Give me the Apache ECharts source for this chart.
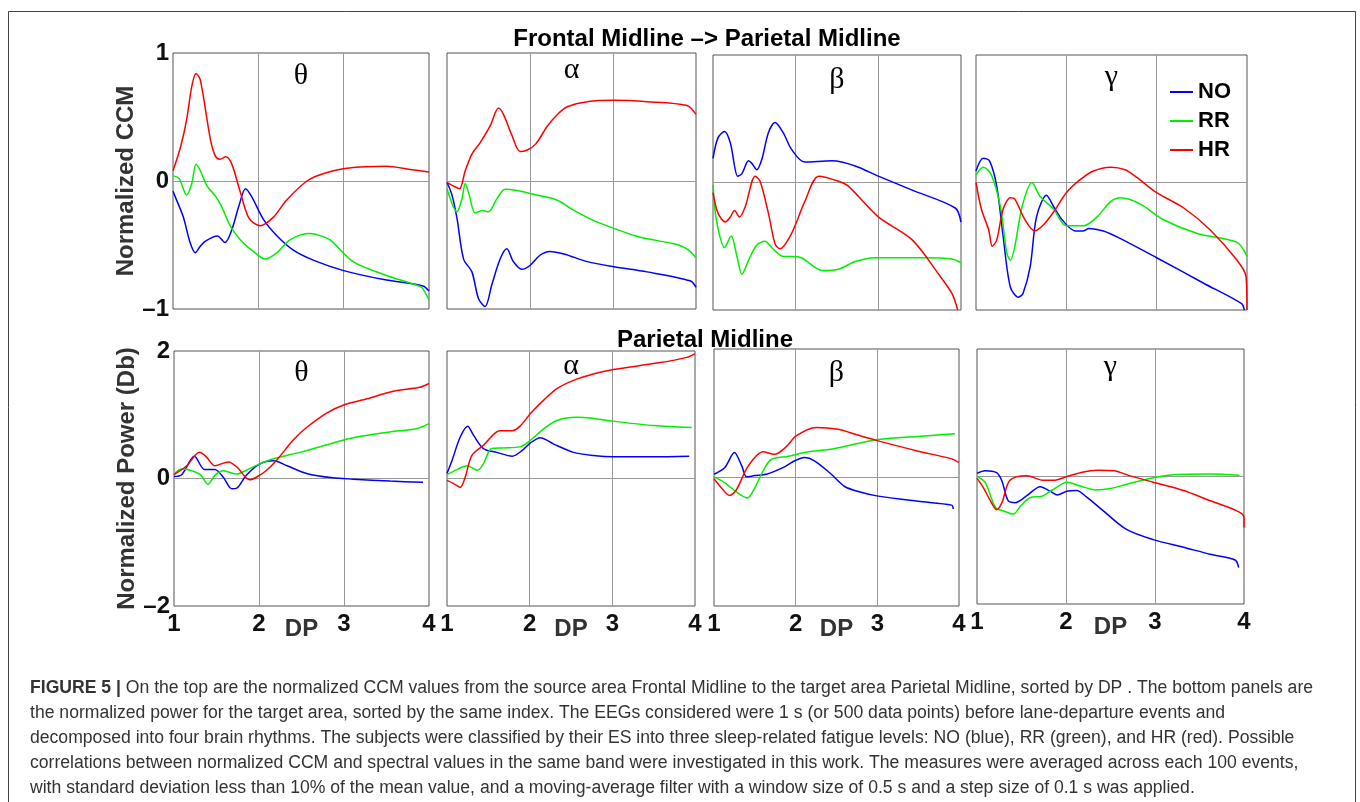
<!DOCTYPE html>
<html>
<head>
<meta charset="utf-8">
<script src="https://cdn.jsdelivr.net/npm/echarts@6.0.0/dist/echarts.min.js"></script>
<style>
  html, body { margin: 0; padding: 0; background: #fff; }
  #chart { width: 1360px; height: 802px; }
</style>
</head>
<body>
<div id="chart"></div>
<script>
// bands, groups and the x axis (DP index)
const bands = ['θ', 'α', 'β', 'γ']
const groups = ['NO', 'RR', 'HR']
const dpTicks = [1, 2, 3, 4]

// normalized CCM, Frontal Midline -> Parietal Midline, [DP, value]
const thetaCcmNO = [[1,-0.08],[1.03,-0.13],[1.12,-0.28],[1.2,-0.48],[1.26,-0.56],[1.32,-0.51],[1.38,-0.47],[1.52,-0.43],[1.61,-0.48],[1.69,-0.38],[1.77,-0.2],[1.85,-0.06],[1.92,-0.12],[2.06,-0.3],[2.22,-0.43],[2.41,-0.54],[2.65,-0.62],[3,-0.7],[3.47,-0.77],[3.93,-0.82],[4,-0.86]]
const thetaCcmRR = [[1,0.04],[1.07,0.02],[1.16,-0.11],[1.22,-0.02],[1.27,0.13],[1.32,0.08],[1.4,-0.04],[1.5,-0.12],[1.57,-0.2],[1.67,-0.35],[1.79,-0.46],[1.94,-0.55],[2.08,-0.61],[2.22,-0.56],[2.37,-0.46],[2.59,-0.41],[2.69,-0.42],[2.84,-0.46],[3.11,-0.63],[3.47,-0.73],[3.86,-0.815],[3.92,-0.835],[4,-0.93]]
const thetaCcmHR = [[1,0.08],[1.09,0.27],[1.16,0.48],[1.22,0.74],[1.27,0.84],[1.32,0.79],[1.44,0.32],[1.5,0.19],[1.55,0.17],[1.62,0.19],[1.69,0.13],[1.79,-0.09],[1.89,-0.29],[2.02,-0.35],[2.18,-0.28],[2.33,-0.15],[2.57,0],[2.76,0.057],[3.04,0.1],[3.5,0.115],[3.78,0.09],[4,0.07]]

const alphaCcmNO = [[1,-0.01],[1.06,-0.11],[1.12,-0.29],[1.2,-0.61],[1.3,-0.71],[1.38,-0.92],[1.46,-0.98],[1.54,-0.81],[1.64,-0.61],[1.72,-0.53],[1.8,-0.63],[1.9,-0.69],[2,-0.66],[2.12,-0.58],[2.24,-0.55],[2.41,-0.57],[2.69,-0.63],[3.01,-0.67],[3.41,-0.71],[3.93,-0.78],[4,-0.83]]
const alphaCcmRR = [[1,-0.06],[1.12,-0.24],[1.18,-0.14],[1.22,-0.02],[1.26,-0.09],[1.34,-0.25],[1.42,-0.23],[1.5,-0.24],[1.6,-0.14],[1.7,-0.065],[1.84,-0.075],[2.08,-0.11],[2.33,-0.15],[2.53,-0.23],[2.77,-0.31],[3.01,-0.37],[3.33,-0.44],[3.73,-0.49],[3.89,-0.53],[4,-0.6]]
const alphaCcmHR = [[1,-0.01],[1.08,-0.04],[1.15,-0.06],[1.22,0.08],[1.3,0.21],[1.4,0.3],[1.52,0.43],[1.62,0.57],[1.68,0.52],[1.78,0.36],[1.88,0.23],[1.96,0.24],[2.07,0.29],[2.21,0.43],[2.33,0.52],[2.45,0.58],[2.69,0.62],[3.01,0.63],[3.41,0.62],[3.89,0.59],[4,0.52]]

const betaCcmNO = [[1,0.19],[1.06,0.35],[1.14,0.4],[1.21,0.31],[1.3,0.05],[1.35,0.07],[1.43,0.17],[1.47,0.15],[1.53,0.1],[1.59,0.18],[1.67,0.39],[1.75,0.47],[1.85,0.39],[1.95,0.26],[2.11,0.16],[2.44,0.17],[2.72,0.13],[3,0.05],[3.41,-0.06],[3.93,-0.2],[4,-0.31]]
const betaCcmRR = [[1,-0.02],[1.04,-0.29],[1.14,-0.51],[1.22,-0.42],[1.29,-0.58],[1.35,-0.72],[1.43,-0.61],[1.53,-0.49],[1.63,-0.46],[1.71,-0.51],[1.85,-0.58],[1.95,-0.58],[2.07,-0.59],[2.32,-0.69],[2.52,-0.68],[2.72,-0.62],[2.96,-0.59],[3.52,-0.59],[3.89,-0.6],[4,-0.63]]
const betaCcmHR = [[1,-0.08],[1.06,-0.24],[1.15,-0.31],[1.21,-0.27],[1.26,-0.22],[1.32,-0.27],[1.39,-0.19],[1.51,0.05],[1.57,0.01],[1.67,-0.24],[1.75,-0.48],[1.81,-0.52],[1.95,-0.4],[2.11,-0.15],[2.28,0.05],[2.52,0.01],[2.64,-0.03],[3,-0.27],[3.41,-0.45],[3.73,-0.72],[3.89,-0.87],[3.96,-1]]

const gammaCcmNO = [[1,0.09],[1.08,0.19],[1.15,0.17],[1.23,-0.03],[1.3,-0.42],[1.38,-0.82],[1.47,-0.9],[1.52,-0.87],[1.6,-0.66],[1.67,-0.27],[1.78,-0.1],[1.86,-0.19],[1.95,-0.29],[2.1,-0.38],[2.19,-0.38],[2.25,-0.36],[2.41,-0.38],[2.6,-0.44],[3,-0.59],[3.52,-0.79],[3.94,-0.95],[3.97,-1]]
const gammaCcmRR = [[1,0.06],[1.08,0.12],[1.17,0.06],[1.27,-0.19],[1.34,-0.55],[1.38,-0.61],[1.43,-0.5],[1.51,-0.19],[1.62,0],[1.71,-0.11],[1.86,-0.21],[2,-0.34],[2.19,-0.34],[2.34,-0.27],[2.49,-0.15],[2.6,-0.12],[2.82,-0.17],[3.07,-0.29],[3.45,-0.4],[3.89,-0.47],[4,-0.58]]
const gammaCcmHR = [[1,0],[1.06,-0.21],[1.14,-0.37],[1.18,-0.5],[1.23,-0.45],[1.3,-0.21],[1.38,-0.12],[1.43,-0.13],[1.54,-0.29],[1.65,-0.38],[1.75,-0.33],[1.86,-0.23],[2,-0.08],[2.15,0.02],[2.3,0.09],[2.49,0.12],[2.65,0.1],[2.78,0.04],[3,-0.08],[3.3,-0.2],[3.59,-0.37],[3.89,-0.61],[3.99,-0.74],[4,-1]]

// normalized power (Db), Parietal Midline, [DP, value]
const thetaPowNO = [[1,0.03],[1.09,0.06],[1.24,0.35],[1.36,0.14],[1.48,0.14],[1.58,0.02],[1.68,-0.16],[1.74,-0.15],[1.85,0.05],[2.01,0.23],[2.17,0.28],[2.33,0.2],[2.56,0.08],[2.87,0.01],[3.11,-0.01],[3.54,-0.04],[3.93,-0.06]]
const thetaPowRR = [[1,0.07],[1.09,0.15],[1.19,0.13],[1.31,0.06],[1.4,-0.09],[1.48,0.05],[1.58,0.12],[1.74,0.07],[1.85,0.13],[2.01,0.23],[2.17,0.31],[2.48,0.41],[2.8,0.53],[3.11,0.64],[3.54,0.73],[3.85,0.78],[4,0.86]]
const thetaPowHR = [[1,0.06],[1.15,0.2],[1.3,0.41],[1.38,0.34],[1.48,0.2],[1.64,0.26],[1.74,0.18],[1.89,-0.02],[1.97,0.02],[2.09,0.13],[2.21,0.29],[2.4,0.6],[2.56,0.8],[2.8,1.03],[2.99,1.15],[3.27,1.25],[3.58,1.37],[3.89,1.43],[4,1.49]]

const alphaPowNO = [[1,0.08],[1.06,0.28],[1.16,0.65],[1.25,0.82],[1.32,0.68],[1.44,0.47],[1.6,0.41],[1.79,0.35],[1.91,0.44],[2.01,0.56],[2.13,0.64],[2.29,0.54],[2.53,0.41],[2.77,0.36],[3.01,0.34],[3.5,0.34],[3.93,0.35]]
const alphaPowRR = [[1,0.06],[1.12,0.14],[1.24,0.2],[1.37,0.13],[1.44,0.23],[1.54,0.47],[1.68,0.48],[1.89,0.5],[2.01,0.6],[2.17,0.78],[2.33,0.91],[2.57,0.96],[2.73,0.95],[3.01,0.9],[3.5,0.83],[3.96,0.8]]
const alphaPowHR = [[1,-0.03],[1.08,-0.08],[1.16,-0.14],[1.22,0.02],[1.3,0.36],[1.44,0.52],[1.64,0.75],[1.79,0.75],[1.89,0.83],[2.01,1.02],[2.17,1.23],[2.33,1.41],[2.53,1.54],[2.77,1.64],[3.01,1.71],[3.54,1.81],[3.9,1.9],[4,1.96]]

const betaPowNO = [[1,0.05],[1.13,0.15],[1.25,0.39],[1.34,0.18],[1.4,0.01],[1.5,0.03],[1.64,0.05],[1.87,0.17],[1.99,0.26],[2.11,0.31],[2.23,0.26],[2.42,0.07],[2.6,-0.14],[2.8,-0.23],[3.01,-0.29],[3.5,-0.37],[3.91,-0.43],[3.93,-0.49]]
const betaPowRR = [[1,0.01],[1.13,-0.08],[1.29,-0.24],[1.41,-0.32],[1.5,-0.16],[1.6,0.1],[1.7,0.28],[1.91,0.33],[2.11,0.39],[2.48,0.45],[2.76,0.53],[3.01,0.59],[3.5,0.64],[3.95,0.68]]
const betaPowHR = [[1,-0.02],[1.09,-0.16],[1.19,-0.28],[1.27,-0.2],[1.42,0.18],[1.6,0.4],[1.74,0.36],[1.87,0.46],[2.01,0.65],[2.25,0.78],[2.52,0.75],[2.76,0.66],[3.01,0.57],[3.5,0.41],[3.91,0.29],[4,0.23]]

const gammaPowNO = [[1,0.05],[1.09,0.09],[1.22,0.06],[1.28,-0.07],[1.35,-0.38],[1.43,-0.41],[1.56,-0.3],[1.71,-0.16],[1.82,-0.23],[1.9,-0.29],[2.01,-0.23],[2.12,-0.22],[2.23,-0.32],[2.42,-0.54],[2.68,-0.83],[2.98,-0.99],[3.32,-1.11],[3.62,-1.22],[3.9,-1.31],[3.94,-1.43]]
const gammaPowRR = [[1,0],[1.09,-0.09],[1.21,-0.49],[1.3,-0.54],[1.41,-0.59],[1.49,-0.46],[1.6,-0.33],[1.73,-0.31],[1.86,-0.2],[2.01,-0.09],[2.16,-0.15],[2.33,-0.21],[2.5,-0.19],[2.68,-0.12],[2.94,-0.03],[3.24,0.03],[3.62,0.04],[3.95,0.02]]
const gammaPowHR = [[1,-0.03],[1.07,-0.17],[1.15,-0.38],[1.22,-0.52],[1.28,-0.41],[1.37,-0.06],[1.56,0.01],[1.75,-0.06],[1.86,-0.06],[2.01,0],[2.16,0.06],[2.35,0.1],[2.54,0.09],[2.72,0.01],[2.98,-0.09],[3.32,-0.22],[3.62,-0.38],[3.92,-0.54],[4,-0.64],[4,-0.8]]

const ccmData = [
  [thetaCcmNO, thetaCcmRR, thetaCcmHR],
  [alphaCcmNO, alphaCcmRR, alphaCcmHR],
  [betaCcmNO, betaCcmRR, betaCcmHR],
  [gammaCcmNO, gammaCcmRR, gammaCcmHR]
]
const powData = [
  [thetaPowNO, thetaPowRR, thetaPowHR],
  [alphaPowNO, alphaPowRR, alphaPowHR],
  [betaPowNO, betaPowRR, betaPowHR],
  [gammaPowNO, gammaPowRR, gammaPowHR]
]

const captionLines = [
  'On the top are the normalized CCM values from the source area Frontal Midline to the target area Parietal Midline, sorted by DP . The bottom panels are',
  'the normalized power for the target area, sorted by the same index. The EEGs considered were 1 s (or 500 data points) before lane-departure events and',
  'decomposed into four brain rhythms. The subjects were classified by their ES into three sleep-related fatigue levels: NO (blue), RR (green), and HR (red). Possible',
  'correlations between normalized CCM and spectral values in the same band were investigated in this work. The measures were averaged across each 100 events,',
  'with standard deviation less than 10% of the mean value, and a moving-average filter with a window size of 0.5 s and a step size of 0.1 s was applied.'
]

const colors = ['#0000ff', '#00ee00', '#ff0000']
const sans = '"Liberation Sans", Arial, sans-serif'
const serif = '"Liberation Serif", "Times New Roman", serif'

// panel boxes (pixels)
const rows = [
  { lefts: [173, 447, 713, 976], widths: [256, 249, 248, 271], tops: [53, 53, 55, 55], heights: [256, 256, 255, 255], min: -1, max: 1, step: 1, name: 'Normalized CCM', data: ccmData },
  { lefts: [174, 447, 714, 977], widths: [255, 248, 245, 267], tops: [351, 351, 349, 349], heights: [255, 255, 257, 255], min: -2, max: 2, step: 2, name: 'Normalized Power (Db)', data: powData }
]
const greekY = [[76, 70, 80, 77], [373, 366, 373, 367]]

const grid = []
const xAxis = []
const yAxis = []
const series = []
const graphic = []

rows.forEach((row, r) => {
  bands.forEach((band, b) => {
    const idx = r * 4 + b
    grid.push({
      left: row.lefts[b], top: row.tops[b], width: row.widths[b], height: row.heights[b],
      show: true, borderColor: '#555', borderWidth: 1, backgroundColor: 'transparent'
    })
    xAxis.push({
      type: 'value', gridIndex: idx, min: dpTicks[0], max: dpTicks[3], interval: 1,
      axisLine: { show: false }, axisTick: { show: false },
      splitLine: { show: true, showMinLine: false, showMaxLine: false, lineStyle: { color: '#999', width: 1 } },
      axisLabel: { show: r === 1, margin: 6, color: '#111', fontSize: 24, fontWeight: 'bold', fontFamily: sans },
      name: r === 1 ? 'DP' : '', nameLocation: 'middle', nameGap: 11, nameMoveOverlap: false,
      nameTextStyle: { color: '#333', fontSize: 24, fontWeight: 'bold', fontFamily: sans, verticalAlign: 'top' }
    })
    yAxis.push({
      type: 'value', gridIndex: idx, min: row.min, max: row.max, interval: row.step,
      axisLine: { show: false }, axisTick: { show: false },
      splitLine: { show: true, showMinLine: false, showMaxLine: false, lineStyle: { color: '#999', width: 1 } },
      axisLabel: {
        show: b === 0, margin: 4, color: '#111', fontSize: 24, fontWeight: 'bold', fontFamily: sans,
        formatter: v => String(v).replace('-', '\u2013')
      },
      name: b === 0 ? row.name : '', nameLocation: 'middle', nameRotate: 90, nameGap: 35, nameMoveOverlap: false,
      nameTextStyle: { color: '#333', fontSize: 24, fontWeight: 'bold', fontFamily: sans }
    })
    groups.forEach((g, k) => {
      series.push({
        type: 'line', name: g, xAxisIndex: idx, yAxisIndex: idx,
        data: row.data[b][k], showSymbol: false, smooth: 0.3, animation: false,
        lineStyle: { color: colors[k], width: 1.5 }, itemStyle: { color: colors[k] }
      })
    })
    graphic.push({
      type: 'text',
      x: row.lefts[b] + row.widths[b] / 2, y: greekY[r][b],
      style: { text: band, fill: '#000', font: '30px ' + serif, textAlign: 'center', textVerticalAlign: 'middle' }
    })
  })
})

// figure frame, panel titles and caption
graphic.push({
  type: 'rect', shape: { x: 8.5, y: 11.5, width: 1347, height: 830 },
  style: { fill: 'none', stroke: '#444', lineWidth: 1 }
})
graphic.push({
  type: 'text', x: 707, y: 39,
  style: { text: 'Frontal Midline \u2013> Parietal Midline', fill: '#000', font: 'bold 24px ' + sans, textAlign: 'center', textVerticalAlign: 'middle' }
})
graphic.push({
  type: 'text', x: 705, y: 340,
  style: { text: 'Parietal Midline', fill: '#000', font: 'bold 24px ' + sans, textAlign: 'center', textVerticalAlign: 'middle' }
})
captionLines.forEach((line, i) => {
  graphic.push({
    type: 'text', x: 30, y: 688 + i * 25,
    style: {
      text: i === 0 ? '{b|FIGURE 5 |} ' + line : line,
      fill: '#333', font: '17.6px ' + sans, textVerticalAlign: 'middle',
      rich: { b: { fontWeight: 'bold', fontSize: 17.6, fontFamily: sans, fill: '#333' } }
    }
  })
})

const chart = echarts.init(document.getElementById('chart'))
chart.setOption({
  animation: false,
  backgroundColor: '#fff',
  legend: {
    data: groups, orient: 'vertical', left: 1165, top: 76,
    icon: 'rect', itemWidth: 23, itemHeight: 2, itemGap: 7, selectedMode: false,
    textStyle: { color: '#000', fontSize: 22, fontWeight: 'bold', fontFamily: sans, lineHeight: 22, padding: [0, 0, 0, 0] }
  },
  grid: grid,
  xAxis: xAxis,
  yAxis: yAxis,
  series: series,
  graphic: graphic
})
</script>
</body>
</html>
